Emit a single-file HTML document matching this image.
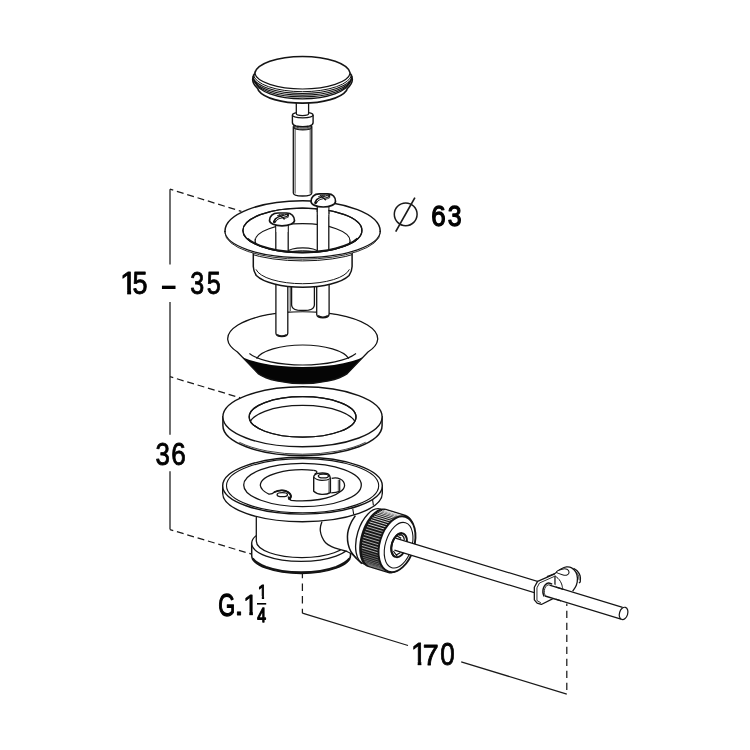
<!DOCTYPE html>
<html><head><meta charset="utf-8"><title>Drain assembly</title>
<style>
html,body{margin:0;padding:0;background:#fff;}
body{width:750px;height:750px;overflow:hidden;font-family:"Liberation Sans",sans-serif;}
svg{display:block}
text{font-family:"Liberation Sans",sans-serif;}
.txt{opacity:0.999;}
</style></head><body>
<svg width="750" height="750" viewBox="0 0 750 750">
<rect width="750" height="750" fill="#fff"/>
<path d="M293.3 127 L293.3 193 Q293.3 196 302.5 196 Q311.8 196 311.8 193 L311.8 127 Z" fill="#fff" stroke="#141414" stroke-width="1.3"/>
<path d="M295.1 129 L295.1 193.5 M310.2 129 L310.2 193.5" fill="none" stroke="#141414" stroke-width="0.8"/>
<path d="M293.9 124 L293.9 127.5 A8.8 2.4 0 0 0 311.5 127.5 L311.5 124 Z" fill="#fff" stroke="#141414" stroke-width="1.1"/>
<path d="M293.9 125.6 A8.8 2.4 0 0 0 311.5 125.6 M293.9 126.8 A8.8 2.4 0 0 0 311.5 126.8" fill="none" stroke="#141414" stroke-width="0.8"/>
<path d="M292.4 115 L292.4 122.5 Q292.4 125 296 126 Q302.7 127.6 309.5 126 Q313.1 125 313.1 122.5 L313.1 115 A10.35 2.9 0 0 0 292.4 115 Z" fill="#fff" stroke="#141414" stroke-width="1.4"/>
<path d="M292.4 115 A10.35 2.9 0 0 0 313.1 115" fill="none" stroke="#141414" stroke-width="1.1"/>
<path d="M296.3 100 L296.3 113.6 A6.15 2.1 0 0 0 308.6 113.6 L308.6 100 Z" fill="#fff" stroke="#141414" stroke-width="1.3"/>
<path d="M254.8 73.2 A47.8 17.8 0 0 1 350.2 73.2 C351.5 75 352.4 77.5 352.3 79.8 C352.2 83 349.5 86.5 347.2 88.6 L346.5 90.5 A45.5 17 0 0 1 258.5 90.5 L257.8 88.6 C255.5 86.5 252.8 83 252.7 79.8 C252.6 77.5 253.5 75 254.8 73.2 Z" fill="#fff" stroke="#141414" stroke-width="1.6" stroke-linejoin="round"/>
<path d="M254.8 73.2 A47.8 16.9 0 0 0 350.2 73.2" fill="none" stroke="#141414" stroke-width="1.2"/>
<path d="M253.37 74.64 A49.20 18.00 0 0 0 351.63 74.64" fill="none" stroke="#111" stroke-width="1.0"/>
<path d="M252.87 76.44 A49.70 18.00 0 0 0 352.13 76.44" fill="none" stroke="#111" stroke-width="1.15"/>
<path d="M253.17 78.14 A49.40 18.00 0 0 0 351.83 78.14" fill="none" stroke="#111" stroke-width="1.15"/>
<path d="M253.97 79.84 A48.60 18.00 0 0 0 351.03 79.84" fill="none" stroke="#111" stroke-width="1.15"/>
<path d="M255.56 81.74 A47.00 18.00 0 0 0 349.44 81.74" fill="none" stroke="#111" stroke-width="1.3"/>
<path d="M237.42 352.04 A75.0 27.1 0 1 1 367.98 352.04 L347.29 373.63 A50.5 18.8 0 0 1 258.11 373.63 Z" fill="#050505" stroke="none"/>
<path d="M236.51 353.41 L237.42 352.04 A75.0 27.1 0 1 1 367.98 352.04 L368.89 353.41 A70 20 0 0 1 236.51 353.41 Z" fill="#fff" stroke="none"/>
<path d="M237.42 352.04 A75.0 27.1 0 1 1 367.98 352.04 L347.29 373.63 A50.5 18.8 0 0 1 258.11 373.63 Z" fill="none" stroke="#141414" stroke-width="1.3" stroke-linejoin="round"/>
<path d="M249.39 353.49 A57.50 18.40 0 0 0 356.01 353.49" fill="none" stroke="#141414" stroke-width="1.1"/>
<path d="M256.53 358.62 A47.20 17.20 0 0 1 348.87 358.62" fill="none" stroke="#141414" stroke-width="1.2"/>
<path d="M275.9 270 L275.9 333.2 Q276.2 336.6 281.85 336.7 Q287.5 336.6 287.8 333.2 L287.8 270 Z" fill="#fff" stroke="#141414" stroke-width="1.3"/>
<path d="M277.0 334.6 Q281.85 337.4 286.7 334.6" fill="none" stroke="#141414" stroke-width="1.6"/>
<path d="M316.7 270 L316.7 314.4 Q317 317.8 322.9 317.9 Q328.8 317.8 329.1 314.4 L329.1 270 Z" fill="#fff" stroke="#141414" stroke-width="1.3"/>
<path d="M317.9 315.8 Q322.9 318.6 327.9 315.8" fill="none" stroke="#141414" stroke-width="1.6"/>
<path d="M290.2 280 L290.2 311.3 L315.6 311.3 L315.6 280 Z" fill="#fff" stroke="none"/>
<path d="M290.2 280 L290.2 311.0" fill="none" stroke="#141414" stroke-width="0.9"/>
<path d="M291.6 280 L291.6 305.0 Q291.8 309.0 297.5 310.2 Q303 310.8 308.5 310.2 Q314.2 309.0 314.4 305.0 L314.4 280" fill="#fff" stroke="#141414" stroke-width="1.3"/>
<path d="M253.3 240 L253.3 266.5 Q253.5 271.5 256.3 275.5 A49.4 17.9 0 0 0 349.1 275.5 Q351.9 271.5 352.1 266.5 L352.1 240 Z" fill="#fff" stroke="#141414" stroke-width="1.5"/>
<path d="M255.98 269.36 A47.30 17.00 0 0 0 349.42 269.36" fill="none" stroke="#141414" stroke-width="1.0"/>
<path d="M225.00 231.1 L225.00 232.70 A77.6 26.5 0 0 0 380.20 232.70 L380.20 231.1 Z" fill="#fff" stroke="#141414" stroke-width="0.9"/>
<path d="M225.00 231.1 A77.6 30.4 0 0 1 380.20 231.1 A77.6 26.5 0 0 1 225.00 231.1 Z" fill="#fff" stroke="none"/>
<path d="M225.00 231.90 L225.00 231.1 A77.6 30.4 0 0 1 380.20 231.1 L380.20 231.90" fill="none" stroke="#141414" stroke-width="1.5"/>
<path d="M380.20 231.1 A77.6 26.5 0 0 1 225.00 231.1" fill="none" stroke="#141414" stroke-width="1.15"/>
<clipPath id="ccup"><rect x="253.3" y="240" width="98.8" height="30"/></clipPath>
<g clip-path="url(#ccup)"><path d="M225.00 234.40 A77.6 26.5 0 0 0 380.20 234.40" fill="none" stroke="#141414" stroke-width="1.0"/></g>
<ellipse cx="302.40" cy="230.40" rx="59.50" ry="22.20" fill="#fff" stroke="#141414" stroke-width="1.3"/>
<clipPath id="ci1"><ellipse cx="302.4" cy="230.4" rx="59.5" ry="22.2"/></clipPath>
<g clip-path="url(#ci1)">
<ellipse cx="302.60" cy="240.90" rx="47.50" ry="17.20" fill="#fff" stroke="#141414" stroke-width="1.3"/>
<path d="M288.2 254 L288.2 251.5 A14.6 3.6 0 0 1 317.4 251.5 L317.4 254" fill="#fff" stroke="#141414" stroke-width="1.1"/>
<path d="M288.6 253.2 A14.3 3.0 0 0 1 317.0 253.2" fill="none" stroke="#141414" stroke-width="0.8"/>
<path d="M275.8 222 L275.8 256 L288.2 256 L288.2 222 Z" fill="#fff" stroke="#141414" stroke-width="1.3"/>
<path d="M317.3 203 L317.3 256 L328.8 256 L328.8 203 Z" fill="#fff" stroke="#141414" stroke-width="1.3"/>
</g>
<path d="M317.3 203 L317.3 212 M328.8 203 L328.8 214" fill="#fff" stroke="#141414" stroke-width="1.3"/>
<rect x="317.9" y="203" width="10.3" height="12" fill="#fff"/>
<ellipse cx="302.40" cy="230.40" rx="59.50" ry="22.20" fill="none" stroke="#141414" stroke-width="1.3"/>
<path d="M247.23 238.60 A59.50 21.90 0 0 0 357.57 238.60" fill="none" stroke="#141414" stroke-width="2.0"/>
<rect x="276.5" y="222" width="11.0" height="10" fill="#fff"/>
<rect x="318.0" y="203" width="10.1" height="14" fill="#fff"/>
<path d="M269.50 220.60 C269.50 216.40 272.80 213.00 278.00 213.00 L286.60 213.00 C291.60 213.00 294.50 216.40 294.50 220.60 A12.50 5.20 0 0 1 269.50 220.60 Z" fill="#fff" stroke="#141414" stroke-width="1.7"/>
<path d="M274.40 221.80 Q275.40 218.80 278.40 217.80 Q283.00 216.60 287.60 215.00" fill="none" stroke="#141414" stroke-width="3.0" stroke-linecap="round"/>
<path d="M275.80 220.20 Q276.80 218.60 278.80 217.90 Q283.00 216.70 286.60 215.40" fill="none" stroke="#eee" stroke-width="0.9" stroke-linecap="round"/>
<path d="M279.20 214.80 L284.20 219.00" fill="none" stroke="#141414" stroke-width="1.2" stroke-linecap="round"/>
<path d="M277.40 215.70 Q281.00 214.40 283.50 214.40 M283.60 218.70 Q286.60 218.00 288.60 216.80" fill="none" stroke="#141414" stroke-width="0.9" stroke-linecap="round"/>
<path d="M311.00 201.40 C311.00 197.20 314.05 193.80 319.25 193.80 L327.85 193.80 C332.85 193.80 335.50 197.20 335.50 201.40 A12.25 5.60 0 0 1 311.00 201.40 Z" fill="#fff" stroke="#141414" stroke-width="1.7"/>
<path d="M315.65 202.60 Q316.65 199.60 319.65 198.60 Q324.25 197.40 328.85 195.80" fill="none" stroke="#141414" stroke-width="3.0" stroke-linecap="round"/>
<path d="M317.05 201.00 Q318.05 199.40 320.05 198.70 Q324.25 197.50 327.85 196.20" fill="none" stroke="#eee" stroke-width="0.9" stroke-linecap="round"/>
<path d="M320.45 195.60 L325.45 199.80" fill="none" stroke="#141414" stroke-width="1.2" stroke-linecap="round"/>
<path d="M318.65 196.50 Q322.25 195.20 324.75 195.20 M324.85 199.50 Q327.85 198.80 329.85 197.60" fill="none" stroke="#141414" stroke-width="0.9" stroke-linecap="round"/>
<path d="M222.90 416.8 L222.90 425.60 A79.6 30.0 0 0 0 382.10 425.60 L382.10 416.8 Z" fill="#fff" stroke="#141414" stroke-width="1.5"/>
<path d="M239.33 442.29 A79.10 29.90 0 0 0 365.67 442.29" fill="none" stroke="#141414" stroke-width="0.8"/>
<ellipse cx="302.50" cy="416.80" rx="79.60" ry="30.00" fill="#fff" stroke="#141414" stroke-width="1.4"/>
<ellipse cx="302.60" cy="416.90" rx="53.40" ry="20.30" fill="#fff" stroke="#141414" stroke-width="1.3"/>
<clipPath id="cwi"><ellipse cx="302.6" cy="416.9" rx="53.4" ry="20.3"/></clipPath>
<g clip-path="url(#cwi)"><ellipse cx="302.60" cy="425.70" rx="53.40" ry="20.30" fill="none" stroke="#141414" stroke-width="1.3"/></g>
<ellipse cx="302.60" cy="416.90" rx="53.40" ry="20.30" fill="none" stroke="#141414" stroke-width="1.3"/>
<path d="M251.7 543.3 L251.7 555.5 A49.4 17.9 0 0 0 350.5 555.5 L350.5 543.3 Z" fill="#fff" stroke="#141414" stroke-width="1.5"/>
<path d="M252.6 558.5 Q256 563 266 567 A49.4 17.9 0 0 0 336.2 567 Q346 563 349.6 558.5" fill="none" stroke="#141414" stroke-width="2.3"/>
<ellipse cx="301.10" cy="543.30" rx="49.40" ry="18.10" fill="#fff" stroke="#141414" stroke-width="1.3"/>
<path d="M256.3 500 L256.3 541 A45.6 16.6 0 0 0 347.5 541 L347.5 500 Z" fill="#fff" stroke="#141414" stroke-width="1.3"/>
<path d="M322.00 521.64 L320.56 526.44 L320.32 531.00 L322.00 537.00 L325.60 542.76 L331.60 546.60 L338.80 549.24 L347.20 551.40 L360.40 557.40 L360.40 516.60 L328.00 516.60Z" fill="#fff" stroke="none"/>
<path d="M322.00 521.64 C321.76 522.44 320.84 524.88 320.56 526.44 C320.28 528.00 320.08 529.24 320.32 531.00 C320.56 532.76 321.12 535.04 322.00 537.00 C322.88 538.96 324.00 541.16 325.60 542.76 C327.20 544.36 329.40 545.52 331.60 546.60 C333.80 547.68 336.20 548.44 338.80 549.24 C341.40 550.04 345.80 551.04 347.20 551.40 " fill="none" stroke="#141414" stroke-width="1.3"/>
<path d="M355.36 515.64 C354.70 516.70 352.56 519.64 351.40 522.00 C350.24 524.36 349.06 527.40 348.40 529.80 C347.74 532.20 347.48 534.00 347.44 536.40 C347.40 538.80 347.60 541.70 348.16 544.20 C348.72 546.70 349.46 549.06 350.80 551.40 C352.14 553.74 355.30 557.10 356.20 558.24 L361.84 563.64 L372.40 562.20 L372.40 509.40Z" fill="#fff" stroke="none"/>
<path d="M355.36 515.64 C354.70 516.70 352.56 519.64 351.40 522.00 C350.24 524.36 349.06 527.40 348.40 529.80 C347.74 532.20 347.48 534.00 347.44 536.40 C347.40 538.80 347.60 541.70 348.16 544.20 C348.72 546.70 349.46 549.06 350.80 551.40 C352.14 553.74 355.30 557.10 356.20 558.24 L361.84 563.64" fill="none" stroke="#141414" stroke-width="1.5" stroke-linejoin="round"/>
<path d="M346.36 551.16 L352.00 554.04 L356.56 558.36" fill="none" stroke="#141414" stroke-width="1.2"/>
<ellipse cx="372.21" cy="536.44" rx="15.00" ry="28.60" transform="rotate(17.0 372.21 536.44)" fill="#fff" stroke="#141414" stroke-width="1.3"/>
<path d="M368.34 566.21 L366.87 565.59 L365.51 564.67 L364.27 563.45 L363.18 561.96 L362.23 560.20 L361.45 558.19 L360.84 555.97 L360.40 553.54 L360.15 550.95 L360.08 548.21 L360.20 545.36 L360.50 542.43 L360.98 539.44 L361.63 536.45 L362.46 533.46 L363.44 530.53 L364.58 527.67 L365.85 524.93 L367.24 522.33 L368.73 519.90 L370.32 517.67 L371.98 515.66 L373.70 513.90 L375.45 512.39 L377.22 511.17 L378.99 510.24 L380.73 509.61 L382.44 509.29 L384.08 509.29 L385.65 509.60 L405.25 515.59 L406.73 516.21 L408.09 517.14 L409.32 518.35 L410.42 519.85 L411.36 521.61 L412.15 523.61 L412.76 525.84 L413.19 528.26 L413.45 530.86 L413.52 533.60 L413.40 536.45 L413.10 539.38 L412.62 542.36 L411.96 545.36 L411.14 548.34 L410.15 551.28 L409.02 554.13 L407.75 556.87 L406.36 559.47 L404.86 561.90 L403.27 564.13 L401.61 566.14 L399.90 567.91 L398.14 569.41 L396.37 570.64 L394.61 571.57 L392.86 572.19 L391.16 572.51 L389.51 572.52 L387.95 572.21Z" fill="#161616" stroke="#141414" stroke-width="1.8" stroke-linejoin="round"/>
<clipPath id="ckn"><path d="M368.34 566.21 L366.87 565.59 L365.51 564.67 L364.27 563.45 L363.18 561.96 L362.23 560.20 L361.45 558.19 L360.84 555.97 L360.40 553.54 L360.15 550.95 L360.08 548.21 L360.20 545.36 L360.50 542.43 L360.98 539.44 L361.63 536.45 L362.46 533.46 L363.44 530.53 L364.58 527.67 L365.85 524.93 L367.24 522.33 L368.73 519.90 L370.32 517.67 L371.98 515.66 L373.70 513.90 L375.45 512.39 L377.22 511.17 L378.99 510.24 L380.73 509.61 L382.44 509.29 L384.08 509.29 L385.65 509.60 L405.25 515.59 L406.73 516.21 L408.09 517.14 L409.32 518.35 L410.42 519.85 L411.36 521.61 L412.15 523.61 L412.76 525.84 L413.19 528.26 L413.45 530.86 L413.52 533.60 L413.40 536.45 L413.10 539.38 L412.62 542.36 L411.96 545.36 L411.14 548.34 L410.15 551.28 L409.02 554.13 L407.75 556.87 L406.36 559.47 L404.86 561.90 L403.27 564.13 L401.61 566.14 L399.90 567.91 L398.14 569.41 L396.37 570.64 L394.61 571.57 L392.86 572.19 L391.16 572.51 L389.51 572.52 L387.95 572.21Z"/></clipPath>
<g clip-path="url(#ckn)" fill="none"><path d="M368.68 565.57 L387.30 571.27" stroke="#8a8a8a" stroke-width="0.7"/><path d="M367.41 564.78 L386.04 570.48" stroke="#8a8a8a" stroke-width="0.7"/><path d="M366.25 563.74 L384.87 569.44" stroke="#8a8a8a" stroke-width="0.7"/><path d="M365.20 562.46 L383.83 568.15" stroke="#8a8a8a" stroke-width="0.7"/><path d="M364.28 560.94 L382.91 566.64" stroke="#8a8a8a" stroke-width="0.7"/><path d="M363.50 559.21 L382.12 564.91" stroke="#8a8a8a" stroke-width="0.7"/><path d="M362.85 557.28 L381.48 562.98" stroke="#8a8a8a" stroke-width="0.7"/><path d="M362.36 555.17 L380.98 560.86" stroke="#8a8a8a" stroke-width="0.7"/><path d="M362.01 552.90 L380.64 558.59" stroke="#8a8a8a" stroke-width="0.7"/><path d="M361.82 550.49 L380.45 556.18" stroke="#8a8a8a" stroke-width="0.7"/><path d="M361.80 547.96 L380.42 553.65" stroke="#cfcfcf" stroke-width="0.8"/><path d="M361.92 545.34 L380.55 551.04" stroke="#cfcfcf" stroke-width="0.8"/><path d="M362.21 542.66 L380.83 548.35" stroke="#cfcfcf" stroke-width="0.8"/><path d="M362.65 539.93 L381.27 545.62" stroke="#cfcfcf" stroke-width="0.8"/><path d="M363.24 537.19 L381.86 542.88" stroke="#cfcfcf" stroke-width="0.8"/><path d="M363.97 534.45 L382.60 540.15" stroke="#cfcfcf" stroke-width="0.8"/><path d="M364.84 531.76 L383.47 537.45" stroke="#cfcfcf" stroke-width="0.8"/><path d="M365.85 529.13 L384.47 534.82" stroke="#cfcfcf" stroke-width="0.8"/><path d="M366.97 526.58 L385.59 532.28" stroke="#cfcfcf" stroke-width="0.8"/><path d="M368.20 524.15 L386.82 529.84" stroke="#f4f4f4" stroke-width="0.85"/><path d="M369.52 521.85 L388.15 527.55" stroke="#f4f4f4" stroke-width="0.85"/><path d="M370.93 519.71 L389.56 525.41" stroke="#f4f4f4" stroke-width="0.85"/><path d="M372.41 517.75 L391.04 523.45" stroke="#f4f4f4" stroke-width="0.85"/><path d="M373.95 515.99 L392.58 521.68" stroke="#f4f4f4" stroke-width="0.85"/><path d="M375.53 514.43 L394.16 520.13" stroke="#f4f4f4" stroke-width="0.85"/><path d="M377.14 513.11 L395.76 518.80" stroke="#f4f4f4" stroke-width="0.85"/><path d="M378.76 512.03 L397.38 517.72" stroke="#f4f4f4" stroke-width="0.85"/><path d="M380.38 511.19 L399.00 516.89" stroke="#f4f4f4" stroke-width="0.85"/><path d="M381.97 510.62 L400.60 516.31" stroke="#f4f4f4" stroke-width="0.85"/><path d="M383.53 510.31 L402.16 516.00" stroke="#f4f4f4" stroke-width="0.85"/><path d="M385.05 510.27 L403.67 515.96" stroke="#f4f4f4" stroke-width="0.85"/></g>
<ellipse cx="397.00" cy="544.20" rx="17.20" ry="28.70" transform="rotate(17.0 397.00 544.20)" fill="#fff" stroke="#141414" stroke-width="1.9"/>
<ellipse cx="398.60" cy="545.20" rx="13.20" ry="23.50" transform="rotate(17.0 398.60 545.20)" fill="none" stroke="#141414" stroke-width="1.1"/>
<ellipse cx="399.20" cy="545.20" rx="7.40" ry="12.30" transform="rotate(17.0 399.20 545.20)" fill="#fff" stroke="#141414" stroke-width="1.9"/>
<path d="M397.04 535.96 L401.20 538.36M402.00 534.84 L403.76 537.40 L404.40 539.96M398.96 535.00 L402.00 534.84" fill="none" stroke="#141414" stroke-width="1.3" stroke-linejoin="round"/>
<path d="M393.36 551.16 L396.24 555.00 L400.56 552.44M396.24 555.00 L397.20 556.20" fill="none" stroke="#141414" stroke-width="1.2" stroke-linejoin="round"/>
<path d="M222.70 485.7 L222.70 493.30 A79.8 28.4 0 0 0 382.30 493.30 L382.30 485.7 Z" fill="#fff" stroke="#141414" stroke-width="1.4"/>
<path d="M352.8 509.0 L353.7 514.4 M372.6 499.8 L373.4 505.4" fill="none" stroke="#141414" stroke-width="1.1"/>
<ellipse cx="302.50" cy="485.70" rx="79.80" ry="28.40" fill="#fff" stroke="#141414" stroke-width="1.4"/>
<ellipse cx="302.60" cy="485.70" rx="76.10" ry="27.10" fill="none" stroke="#141414" stroke-width="1.1"/>
<ellipse cx="302.50" cy="484.95" rx="58.80" ry="21.65" fill="none" stroke="#141414" stroke-width="1.3"/>
<path d="M313.7 470.3 A42.15 15.8 0 0 0 260.3 485.2 A42.15 15.8 0 0 0 268.6 494.0 Q272 494.4 274.6 492.0 Q278 490.2 282.2 490.4 Q287.2 490.8 289.6 493.4 Q291.6 495.6 290.6 497.6 Q289.8 499.4 291.0 500.4 A42.15 15.8 0 0 0 339.8 492.0 Q344.6 489 344.6 485.2 Q344.4 481.2 340.2 479.0 Q336 477.0 331.6 478.4" fill="#fff" stroke="#141414" stroke-width="1.3" stroke-linejoin="round"/>
<path d="M313.7 470.3 Q316.8 470.6 317.0 472.0 Q316.6 473.6 314.6 473.8" fill="none" stroke="#141414" stroke-width="1.2"/>
<path d="M339.7 479.4 L339.7 491.6 M331.2 492.9 Q336 492.6 339.7 491.4" fill="none" stroke="#141414" stroke-width="1.2"/>
<path d="M338.3 479.8 L338.3 491.8" fill="none" stroke="#141414" stroke-width="0.7"/>
<path d="M313.7 477.0 Q314.0 474.4 318 473.4 Q323 472.4 327.5 473.6 Q330.4 475.2 330.4 479.6 L330.4 492.6 Q327 494.6 321.8 494.4 Q316.4 494.0 313.7 491.2 Z" fill="#fff" stroke="#141414" stroke-width="1.4" stroke-linejoin="round"/>
<path d="M313.9 477.4 Q316.5 480.2 322 480.4 Q327.5 480.4 330.2 478.6" fill="none" stroke="#141414" stroke-width="1.1"/>
<path d="M329.0 480.2 L329.0 492.9" fill="none" stroke="#141414" stroke-width="0.8"/>
<ellipse cx="323.40" cy="476.00" rx="5.10" ry="1.90" fill="#fff" stroke="#141414" stroke-width="1.3"/>
<path d="M274.6 492.0 Q278 490.2 282.2 490.4 Q287.2 490.8 289.6 493.4 Q291.6 495.6 290.6 497.6" fill="none" stroke="#141414" stroke-width="1.9" stroke-linecap="round"/>
<ellipse cx="282.30" cy="494.70" rx="5.20" ry="2.00" fill="#fff" stroke="#141414" stroke-width="1.3"/>
<path d="M288.2 496.8 Q290.8 496.6 290.6 500.0 L288.6 499.4 Z" fill="#141414" stroke="#141414" stroke-width="1.0"/>
<path d="M546.93 576.65 C547.24 574.60 552.53 574.76 554.87 573.48 C557.20 572.20 558.99 570.09 560.93 569.00 C562.88 567.91 564.74 567.13 566.53 566.95 C568.32 566.76 570.11 566.99 571.67 567.88 C573.22 568.77 574.90 570.52 575.87 572.27 C576.83 574.01 577.38 576.16 577.45 578.33 C577.53 580.51 577.14 583.19 576.33 585.33 C575.52 587.48 574.93 590.05 572.60 591.21 C570.27 592.38 565.60 593.24 562.33 592.33 C559.07 591.43 555.57 588.41 553.00 585.80 C550.43 583.19 546.62 578.71 546.93 576.65 Z" fill="#fff" stroke="none"/>
<path d="M546.93 576.65 C548.26 576.12 552.53 574.76 554.87 573.48 C557.20 572.20 558.99 570.09 560.93 569.00 C562.88 567.91 564.74 567.13 566.53 566.95 C568.32 566.76 570.11 566.99 571.67 567.88 C573.22 568.77 574.90 570.52 575.87 572.27 C576.83 574.01 577.38 576.16 577.45 578.33 C577.53 580.51 577.14 583.19 576.33 585.33 C575.52 587.48 573.22 590.23 572.60 591.21 " fill="none" stroke="#141414" stroke-width="1.3"/>
<path d="M573.53 568.35 C574.16 568.80 576.18 569.82 577.27 571.05 C578.36 572.28 579.57 573.96 580.07 575.72 C580.56 577.48 580.44 580.39 580.25 581.60 C580.07 582.81 579.16 582.77 578.95 583.00 " fill="none" stroke="#141414" stroke-width="1.3"/>
<path d="M574.93 570.87 C575.48 571.57 577.50 573.51 578.20 575.07 C578.90 576.62 578.98 579.34 579.13 580.20 " fill="none" stroke="#141414" stroke-width="0.9"/>
<path d="M556.55 572.08 C556.47 571.15 560.12 569.67 561.87 569.19 C563.61 568.70 565.80 568.67 567.00 569.19 C568.20 569.70 569.05 571.29 569.05 572.27 C569.05 573.25 568.12 574.65 567.00 575.07 C565.88 575.49 564.08 575.28 562.33 574.79 C560.59 574.29 556.62 573.01 556.55 572.08 Z" fill="#fff" stroke="#141414" stroke-width="1.1"/>
<path d="M554.87 575.72 L554.87 586.27" fill="none" stroke="#141414" stroke-width="1.0"/>
<path d="M554.87 575.72 C555.57 576.34 557.95 578.08 559.07 579.45 C560.19 580.82 561.01 582.49 561.59 583.93 C562.16 585.38 562.36 587.43 562.52 588.13 " fill="none" stroke="#141414" stroke-width="1.0"/>
<path d="M395.40 538.13 L622.60 607.42 L621.00 619.16 L394.40 550.09 Z" fill="#fff" stroke="none"/>
<path d="M395.40 538.13 L622.60 607.42 M394.40 550.09 L621.00 619.16" fill="none" stroke="#141414" stroke-width="1.25"/>
<ellipse cx="623.6" cy="613.4" rx="4.1" ry="6.3" transform="rotate(17 623.6 613.4)" fill="#fff" stroke="#141414" stroke-width="1.2"/>
<path d="M394.88 556.67 L394.21 556.26 L393.59 555.72 L393.04 555.07 L392.55 554.30 L392.13 553.44 L391.79 552.49 L391.53 551.46 L391.36 550.36 L391.27 549.21 L391.27 548.01 L391.36 546.78 L391.53 545.53 L391.79 544.28 L392.12 543.04 L392.54 541.82 L393.03 540.64 L393.58 539.51 L394.20 538.44 L394.87 537.45 L395.59 536.54 L396.35 535.72 L397.14 535.01 L397.95 534.41 L398.78 533.93 L399.61 533.57 L400.43 533.34 L401.25 533.24 L402.04 533.28" fill="none" stroke="#141414" stroke-width="1.9"/>
<path d="M534.33 587.20 L537.60 581.32 L554.87 573.95 L554.87 586.27 L553.00 598.68 L541.33 604.47 L537.13 603.07 L534.33 599.80Z" fill="#fff" stroke="none"/>
<path d="M553.00 598.68 L541.33 604.47 L537.13 603.07 L534.33 599.80 L534.33 587.20 L537.60 581.32 L554.87 573.95" fill="none" stroke="#141414" stroke-width="1.3" stroke-linejoin="round"/>
<path d="M554.87 575.72 L554.87 585.99" fill="none" stroke="#141414" stroke-width="1.0"/>
<path d="M536.95 587.85 L539.47 583.00 L554.68 576.28" fill="none" stroke="#141414" stroke-width="0.9"/>
<path d="M536.95 587.85 L536.95 600.55 L540.87 602.79" fill="none" stroke="#141414" stroke-width="0.9"/>
<path d="M544.13 596.53 C543.93 595.83 543.04 593.73 542.92 592.33 C542.80 590.93 542.98 589.41 543.39 588.13 C543.79 586.86 544.49 585.54 545.35 584.68 C546.20 583.82 547.37 583.09 548.52 583.00 C549.67 582.91 551.63 583.93 552.25 584.12 L555.80 585.05 L555.80 599.80 L552.07 599.05Z" fill="#fff" stroke="none"/>
<path d="M544.13 596.53 C543.93 595.83 543.04 593.73 542.92 592.33 C542.80 590.93 542.98 589.41 543.39 588.13 C543.79 586.86 544.49 585.54 545.35 584.68 C546.20 583.82 547.37 583.09 548.52 583.00 C549.67 582.91 551.63 583.93 552.25 584.12 " fill="none" stroke="#141414" stroke-width="1.5"/>
<path d="M545.35 596.07 C545.18 595.44 544.41 593.58 544.32 592.33 C544.23 591.09 544.40 589.72 544.79 588.60 C545.18 587.48 545.88 586.27 546.65 585.61 C547.43 584.96 548.99 584.84 549.45 584.68 " fill="none" stroke="#141414" stroke-width="0.9"/>
<path d="M549.45 585.12 L563.45 589.39 M545.07 596.01 L561.07 600.89" fill="none" stroke="#141414" stroke-width="1.4"/>
<g fill="none" stroke="#1a1a1a" stroke-width="1.25">
<path d="M170 189.2 L170 264.5 M170 302 L170 434.8 M170 471.2 L170 529.5"/>
<path d="M170 189.2 L241.4 211.4" stroke-dasharray="7 3.8" stroke-dashoffset="3.6"/>
<path d="M170 376.7 L240.2 397.8" stroke-dasharray="7 3.8" stroke-dashoffset="3.6"/>
<path d="M170 529.6 L251.8 554.2" stroke-dasharray="7 3.8" stroke-dashoffset="3.6"/>
<path d="M302.4 573.5 L302.4 613.2" stroke-dasharray="7.5 5.2" stroke-dashoffset="2.8"/>
<path d="M302.4 613.2 L408.0 645.5 M461.2 661.8 L566.8 694.1"/>
<path d="M566.8 603.4 L566.8 694.1" stroke-dasharray="7.2 4.8" stroke-dashoffset="4.7"/>
<circle cx="405.7" cy="214.3" r="11.4" stroke-width="1.5"/>
<path d="M395.7 231.7 L414.9 197.7" stroke-width="1.7"/>
</g>
<clipPath id="c1"><rect x="0" y="-80" width="37" height="68"/><rect x="23.6" y="-80" width="13.4" height="81.4"/></clipPath>
<g class="txt">
<text clip-path="url(#c1)" transform="translate(120.00 294.27) scale(0.3051 0.3101)" font-size="100" fill="#000" stroke="#000" stroke-width="2.8" stroke-linejoin="round">1</text>
<text transform="translate(132.59 294.28) scale(0.2700 0.3083)" font-size="100" fill="#000" stroke="#000" stroke-width="2.8" stroke-linejoin="round">5</text>
<text transform="translate(161.96 298.75) scale(0.2424 0.4627)" font-size="100" fill="#000" stroke="#000" stroke-width="0.5" stroke-linejoin="round">–</text>
<text transform="translate(190.30 294.28) scale(0.2510 0.3082)" font-size="100" fill="#000" stroke="#000" stroke-width="2.8" stroke-linejoin="round">3</text>
<text transform="translate(206.64 294.28) scale(0.2520 0.3083)" font-size="100" fill="#000" stroke="#000" stroke-width="2.8" stroke-linejoin="round">5</text>
<text transform="translate(155.48 464.58) scale(0.2588 0.3123)" font-size="100" fill="#000" stroke="#000" stroke-width="2.8" stroke-linejoin="round">3</text>
<text transform="translate(171.36 464.58) scale(0.2612 0.3123)" font-size="100" fill="#000" stroke="#000" stroke-width="2.8" stroke-linejoin="round">6</text>
<text transform="translate(431.17 225.86) scale(0.2589 0.3003)" font-size="100" fill="#000" stroke="#000" stroke-width="4.4" stroke-linejoin="round">6</text>
<text transform="translate(447.70 225.86) scale(0.2490 0.3003)" font-size="100" fill="#000" stroke="#000" stroke-width="4.4" stroke-linejoin="round">3</text>
<text clip-path="url(#c1)" transform="translate(410.95 665.07) scale(0.2868 0.3073)" font-size="100" fill="#000" stroke="#000" stroke-width="2.8" stroke-linejoin="round">1</text>
<text transform="translate(422.85 665.20) scale(0.2875 0.3042)" font-size="100" fill="#000" stroke="#000" stroke-width="2.8" stroke-linejoin="round">7</text>
<text transform="translate(440.22 665.28) scale(0.2600 0.3123)" font-size="100" fill="#000" stroke="#000" stroke-width="2.8" stroke-linejoin="round">0</text>
<text transform="translate(218.16 615.68) scale(0.2182 0.3140)" font-size="100" fill="#000" stroke="#000" stroke-width="4.0" stroke-linejoin="round">G</text>
<text transform="translate(234.37 615.41) scale(0.3417 0.2923)" font-size="100" fill="#000" stroke="#000" stroke-width="2.8" stroke-linejoin="round">.</text>
<text clip-path="url(#c1)" transform="translate(243.13 615.18) scale(0.2647 0.3017)" font-size="100" fill="#000" stroke="#000" stroke-width="2.8" stroke-linejoin="round">1</text>
<text clip-path="url(#c1)" transform="translate(257.69 598.71) scale(0.1773 0.2056)" font-size="100" fill="#000" stroke="#000" stroke-width="5.5" stroke-linejoin="round">1</text>
<text transform="translate(257.13 622.45) scale(0.1587 0.1942)" font-size="100" fill="#000" stroke="#000" stroke-width="6.5" stroke-linejoin="round">4</text>
<rect x="257" y="603" width="9.2" height="1.6" fill="#000"/>
</g>
</svg>
</body></html>
